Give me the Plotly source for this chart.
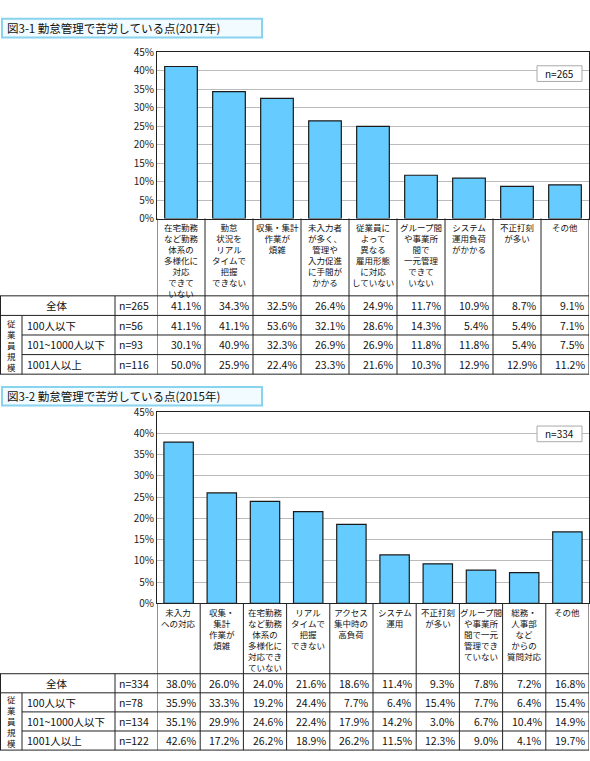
import plotly.graph_objects as go

W, H = 590, 761
FONT = "Noto Sans CJK JP"

title1 = "図3-1 勤怠管理で苦労している点(2017年)"
title2 = "図3-2 勤怠管理で苦労している点(2015年)"

cats1 = ["在宅勤務<br>など勤務<br>体系の<br>多様化に<br>対応<br>できて<br>いない",
         "勤怠<br>状況を<br>リアル<br>タイムで<br>把握<br>できない",
         "収集・集計<br>作業が<br>煩雑",
         "未入力者<br>が多く、<br>管理や<br>入力促進<br>に手間が<br>かかる",
         "従業員に<br>よって<br>異なる<br>雇用形態<br>に対応<br>していない",
         "グループ間<br>や事業所<br>間で<br>一元管理<br>できて<br>いない",
         "システム<br>運用負荷<br>がかかる",
         "不正打刻<br>が多い",
         "その他"]
rows1 = ["全体", "100人以下", "101~1000人以下", "1001人以上"]
n1 = ["n=265", "n=56", "n=93", "n=116"]
vals1 = [
    [41.1, 34.3, 32.5, 26.4, 24.9, 11.7, 10.9, 8.7, 9.1],
    [41.1, 41.1, 53.6, 32.1, 28.6, 14.3, 5.4, 5.4, 7.1],
    [30.1, 40.9, 32.3, 26.9, 26.9, 11.8, 11.8, 5.4, 7.5],
    [50.0, 25.9, 22.4, 23.3, 21.6, 10.3, 12.9, 12.9, 11.2],
]

cats2 = ["未入力<br>への対応",
         "収集・<br>集計<br>作業が<br>煩雑",
         "在宅勤務<br>など勤務<br>体系の<br>多様化に<br>対応でき<br>ていない",
         "リアル<br>タイムで<br>把握<br>できない",
         "アクセス<br>集中時の<br>高負荷",
         "システム<br>運用",
         "不正打刻<br>が多い",
         "グループ間<br>や事業所<br>間で一元<br>管理でき<br>ていない",
         "総務・<br>人事部<br>など<br>からの<br>質問対応",
         "その他"]
rows2 = ["全体", "100人以下", "101~1000人以下", "1001人以上"]
n2 = ["n=334", "n=78", "n=134", "n=122"]
vals2 = [
    [38.0, 26.0, 24.0, 21.6, 18.6, 11.4, 9.3, 7.8, 7.2, 16.8],
    [35.9, 33.3, 19.2, 24.4, 7.7, 6.4, 15.4, 7.7, 6.4, 15.4],
    [35.1, 29.9, 24.6, 22.4, 17.9, 14.2, 3.0, 6.7, 10.4, 14.9],
    [42.6, 17.2, 26.2, 18.9, 26.2, 11.5, 12.3, 9.0, 4.1, 19.7],
]
group_label = "従<br>業<br>員<br>規<br>模"
yticks = [0, 5, 10, 15, 20, 25, 30, 35, 40, 45]
yticktext = [f"{v}%" for v in yticks]

def py(p):
    return 1 - p / H

def px(p):
    return p / W

fig = go.Figure()
shapes, anns = [], []
X0, X1 = 157, 589

def A(**kw):
    kw.setdefault("showarrow", False)
    kw.setdefault("xanchor", "center")
    kw.setdefault("yanchor", "middle")
    kw.setdefault("borderpad", 0)
    anns.append(kw)

def panel(k, title, cats, rows, ns, vals, ttop, ptop, pbot, tabtop, rowh):
    xa = "x" if k == 1 else "x2"
    ya = "y" if k == 1 else "y2"
    n = len(cats)
    xs = list(range(n))
    fig.add_trace(go.Bar(x=xs, y=vals[0], xaxis=xa, yaxis=ya, width=0.68,
                         marker=dict(color="#66CCFF", line=dict(color="#1a1a1a", width=1.2)),
                         showlegend=False, hoverinfo="skip"))
    lay = dict(domain=[px(X0), px(X1)], range=[-0.5, n - 0.5], showticklabels=False,
               showgrid=False, zeroline=False, showline=True, mirror=True,
               linecolor="#222", linewidth=1)
    lay_y = dict(domain=[py(pbot), py(ptop)], range=[0, 45], tickvals=yticks,
                 ticktext=yticktext, showgrid=True, gridcolor="#bbbbbb", zeroline=False,
                 showline=True, mirror=True, linecolor="#222", linewidth=1,
                 tickfont=dict(family=FONT, size=10, color="#222"), ticks="")
    if k == 1:
        fig.update_layout(xaxis=lay, yaxis=lay_y)
    else:
        lay["anchor"] = "y2"; lay_y["anchor"] = "x2"
        fig.update_layout(xaxis2=lay, yaxis2=lay_y)
    shapes.append(dict(type="rect", xref="paper", yref="paper", x0=px(2), x1=px(262),
                       y0=py(ttop + 19), y1=py(ttop), line=dict(color="#88D4EE", width=2),
                       fillcolor="#F2FBFF"))
    A(xref="paper", yref="paper", x=px(6), y=py(ttop + 9.5), text=title, xanchor="left",
      font=dict(family=FONT, size=11.5, color="#111"))
    shapes.append(dict(type="rect", xref="paper", yref="paper", x0=px(537), x1=px(582),
                       y0=py(ptop + 30), y1=py(ptop + 14), line=dict(color="#aaa", width=1),
                       fillcolor="white"))
    A(xref="paper", yref="paper", x=px(559.5), y=py(ptop + 22), text=ns[0],
      font=dict(family=FONT, size=10, color="#111"))
    tabbot = tabtop + 4 * rowh
    for i in range(n + 1):
        shapes.append(dict(type="line", xref=xa, yref="paper", x0=i - 0.5, x1=i - 0.5,
                           y0=py(tabbot), y1=py(pbot), line=dict(color="#222", width=1)))
    for i, c in enumerate(cats):
        A(xref=xa, yref="paper", x=i, y=py(pbot + 2), text=c, yanchor="top",
          font=dict(family=FONT, size=8.5, color="#111"))
    for r in range(5):
        x0 = 0 if r in (0, 1, 4) else 22
        shapes.append(dict(type="line", xref="paper", yref="paper", x0=px(x0), x1=px(X1),
                           y0=py(tabtop + r * rowh), y1=py(tabtop + r * rowh),
                           line=dict(color="#222", width=1)))
    for xv, ys in [(0.5, tabtop), (22, tabtop + rowh), (115, tabtop)]:
        shapes.append(dict(type="line", xref="paper", yref="paper", x0=px(xv), x1=px(xv),
                           y0=py(tabbot), y1=py(ys), line=dict(color="#222", width=1)))
    A(xref="paper", yref="paper", x=px(11), y=py(tabtop + 2.5 * rowh), text=group_label,
      font=dict(family=FONT, size=8.5, color="#111"))
    colw = (X1 - X0) / n
    for r in range(4):
        yc = py(tabtop + (r + 0.5) * rowh)
        if r == 0:
            A(xref="paper", yref="paper", x=px(57), y=yc, text=rows[r],
              font=dict(family=FONT, size=10.5, color="#111"))
        else:
            A(xref="paper", yref="paper", x=px(26), y=yc, text=rows[r], xanchor="left",
              font=dict(family=FONT, size=10.5, color="#111"))
        A(xref="paper", yref="paper", x=px(118), y=yc, text=ns[r], xanchor="left",
          font=dict(family=FONT, size=10.5, color="#111"))
        for i, v in enumerate(vals[r]):
            A(xref=xa, yref="paper", x=i, y=yc, text=f"{v:.1f}%", xanchor="right",
              xshift=colw / 2 - 3, font=dict(family=FONT, size=10.5, color="#111"))

panel(1, title1, cats1, rows1, n1, vals1, 10, 44, 214, 293, 20)
panel(2, title2, cats2, rows2, n2, vals2, 386, 412, 607, 679, 19.5)

fig.update_layout(width=W, height=H, margin=dict(l=0, r=0, t=0, b=0),
                  plot_bgcolor="white", paper_bgcolor="white", bargap=0.3,
                  shapes=shapes, annotations=anns)
fig.write_html("out.html", config={"displayModeBar": False})
with open("out.html", encoding="utf-8") as f:
    html = f.read()
html = html.replace("<head>", "<head><style>html,body{margin:0;padding:0;overflow:hidden;}</style>", 1)
with open("out.html", "w", encoding="utf-8") as f:
    f.write(html)
